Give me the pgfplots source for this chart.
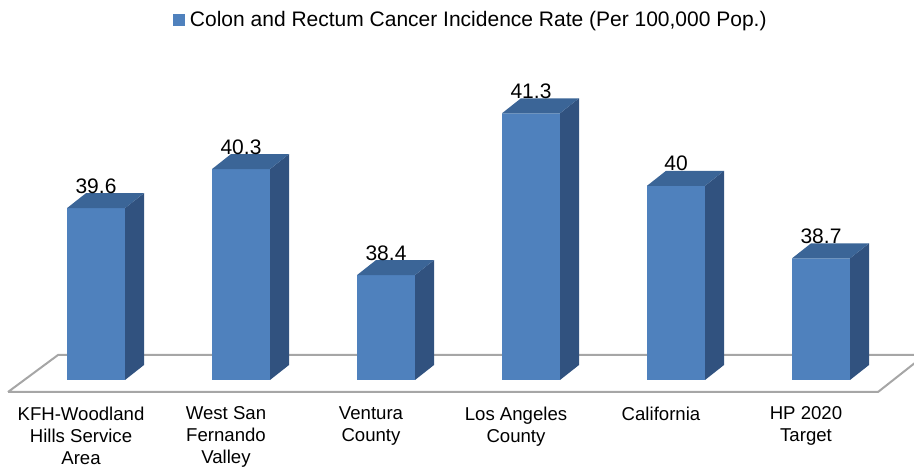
\documentclass[border=0pt]{standalone}
\usepackage{fontspec}
\setmainfont{Liberation Sans}
\usepackage{pgfplots}
\pgfplotsset{compat=1.18}
\usepackage{pgfplotstable}
\definecolor{barfront}{HTML}{4F81BD}
\definecolor{barside}{HTML}{31527F}
\definecolor{bartop}{HTML}{3B6597}
\definecolor{floorgray}{HTML}{A6A6A6}

\pgfplotstableread{
idx value
0 39.6
1 40.3
2 38.4
3 41.3
4 40
5 38.7
}\datatable

\pgfplotstableread{
fx fy
-0.6069 36.305
5.3931 36.305
5.717 36.968
-0.2621 36.968
-0.6069 36.305
}\floortable

\pgfdeclareplotmark{bardepth}{%
  \pgfmathsetmacro\barh{(\rv-36.52)*55.8}%
  \pgfsetfillcolor{barside}%
  \pgfpathmoveto{\pgfqpoint{29pt}{0pt}}%
  \pgfpathlineto{\pgfqpoint{48pt}{15pt}}%
  \pgfpathlineto{\pgfpoint{48pt}{15pt-\barh pt}}%
  \pgfpathlineto{\pgfpoint{29pt}{-\barh pt}}%
  \pgfpathclose
  \pgfusepath{fill}%
  \pgfsetfillcolor{bartop}%
  \pgfpathmoveto{\pgfqpoint{-29pt}{0pt}}%
  \pgfpathlineto{\pgfqpoint{29pt}{0pt}}%
  \pgfpathlineto{\pgfqpoint{48pt}{15pt}}%
  \pgfpathlineto{\pgfqpoint{-10pt}{15pt}}%
  \pgfpathclose
  \pgfusepath{fill}%
}

\begin{document}
\begin{tikzpicture}
\useasboundingbox (0,0) rectangle (914pt,468pt);
\clip (0,0) rectangle (914pt,468pt);
\begin{axis}[
  at={(0pt,88pt)}, anchor=south west,
  x=145pt, y=55.8pt,
  xmin=-0.6621, xmax=5.6414,
  ymin=36.52, ymax=43.33,
  clip=false,
  axis line style={draw=none},
  ymajorticks=false,
  xtick={0,1,2,3,4,5},
  xticklabels={{KFH-Woodland\\Hills Service\\Area},{West San\\Fernando\\Valley},{Ventura\\County},{Los Angeles\\County},{California},{HP 2020\\Target}},
  major tick length=0pt,
  xticklabel style={align=center, font=\fontsize{18.6}{22}\selectfont, yshift=-23pt, xshift=-15pt},
  legend style={at={(axis cs:2.585,42.97)}, anchor=center, draw=none, fill=none, font=\fontsize{21}{25}\selectfont},
  legend image code/.code={\path (0pt,0pt) (15pt,0pt); \fill[barfront] (0pt,-6pt) rectangle (12pt,6pt);},
  /pgf/number format/assume math mode=true,
]
\addplot[draw=floorgray, line width=2pt, forget plot] table[x=fx,y=fy]{\floortable};
\addplot[ybar, bar width=58pt, fill=barfront, draw=none] table[x=idx,y=value]{\datatable};
\addlegendentry{Colon and Rectum Cancer Incidence Rate (Per 100,000 Pop.)}
\addplot[only marks, mark=bardepth, forget plot,
  visualization depends on={\thisrow{value} \as \rv},
  nodes near coords,
  every node near coord/.append style={anchor=base, yshift=15pt, font=\fontsize{21}{25}\selectfont, text=black}]
  table[x=idx,y=value]{\datatable};
\end{axis}
\end{tikzpicture}
\end{document}
